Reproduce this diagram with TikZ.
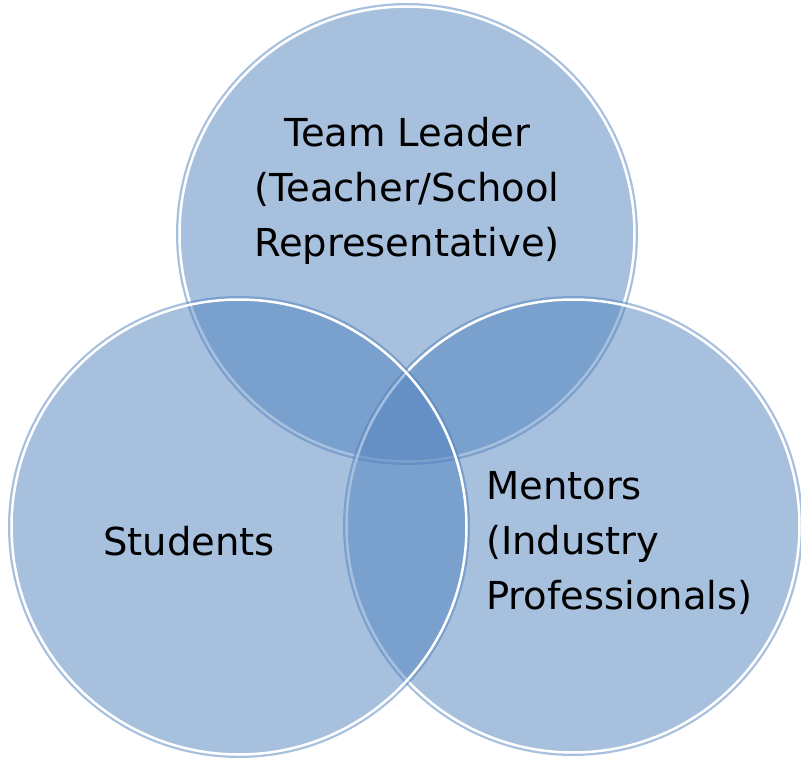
\documentclass[tikz,border=0pt]{standalone}
\usepackage{fontspec}
\setmainfont{DejaVu Sans}
\definecolor{accent}{HTML}{4F81BD}
\tikzset{
  venn/.style={fill=accent, fill opacity=0.5},
  rim/.style={draw=white, line width=2.5pt},
  lbl/.style={inner sep=0pt, font=\fontsize{38.5}{55}\selectfont, text=black}
}
\begin{document}
\begin{tikzpicture}[x=1pt,y=-1pt]
\useasboundingbox (0,0) rectangle (801,760);
% top circle
\fill[venn] (407,234) circle (231);
\draw[rim] (407,234) circle (227.5);
% right circle
\fill[venn] (573,526) circle (230);
\draw[rim] (573,526) circle (226.5);
% left circle
\fill[venn] (239,527) circle (231);
\draw[rim] (239,527) circle (227.5);
% labels (base anchor = baseline of last line)
\node[lbl, align=center, anchor=base] (team) at (407,256) {Team Leader\\(Teacher/School\\Representative)};
\node[lbl, anchor=base] (students) at (189,555) {Students};
\node[lbl, align=left, anchor=base west] (mentors) at (486,609) {Mentors\\(Industry\\Professionals)};
\end{tikzpicture}
\end{document}
